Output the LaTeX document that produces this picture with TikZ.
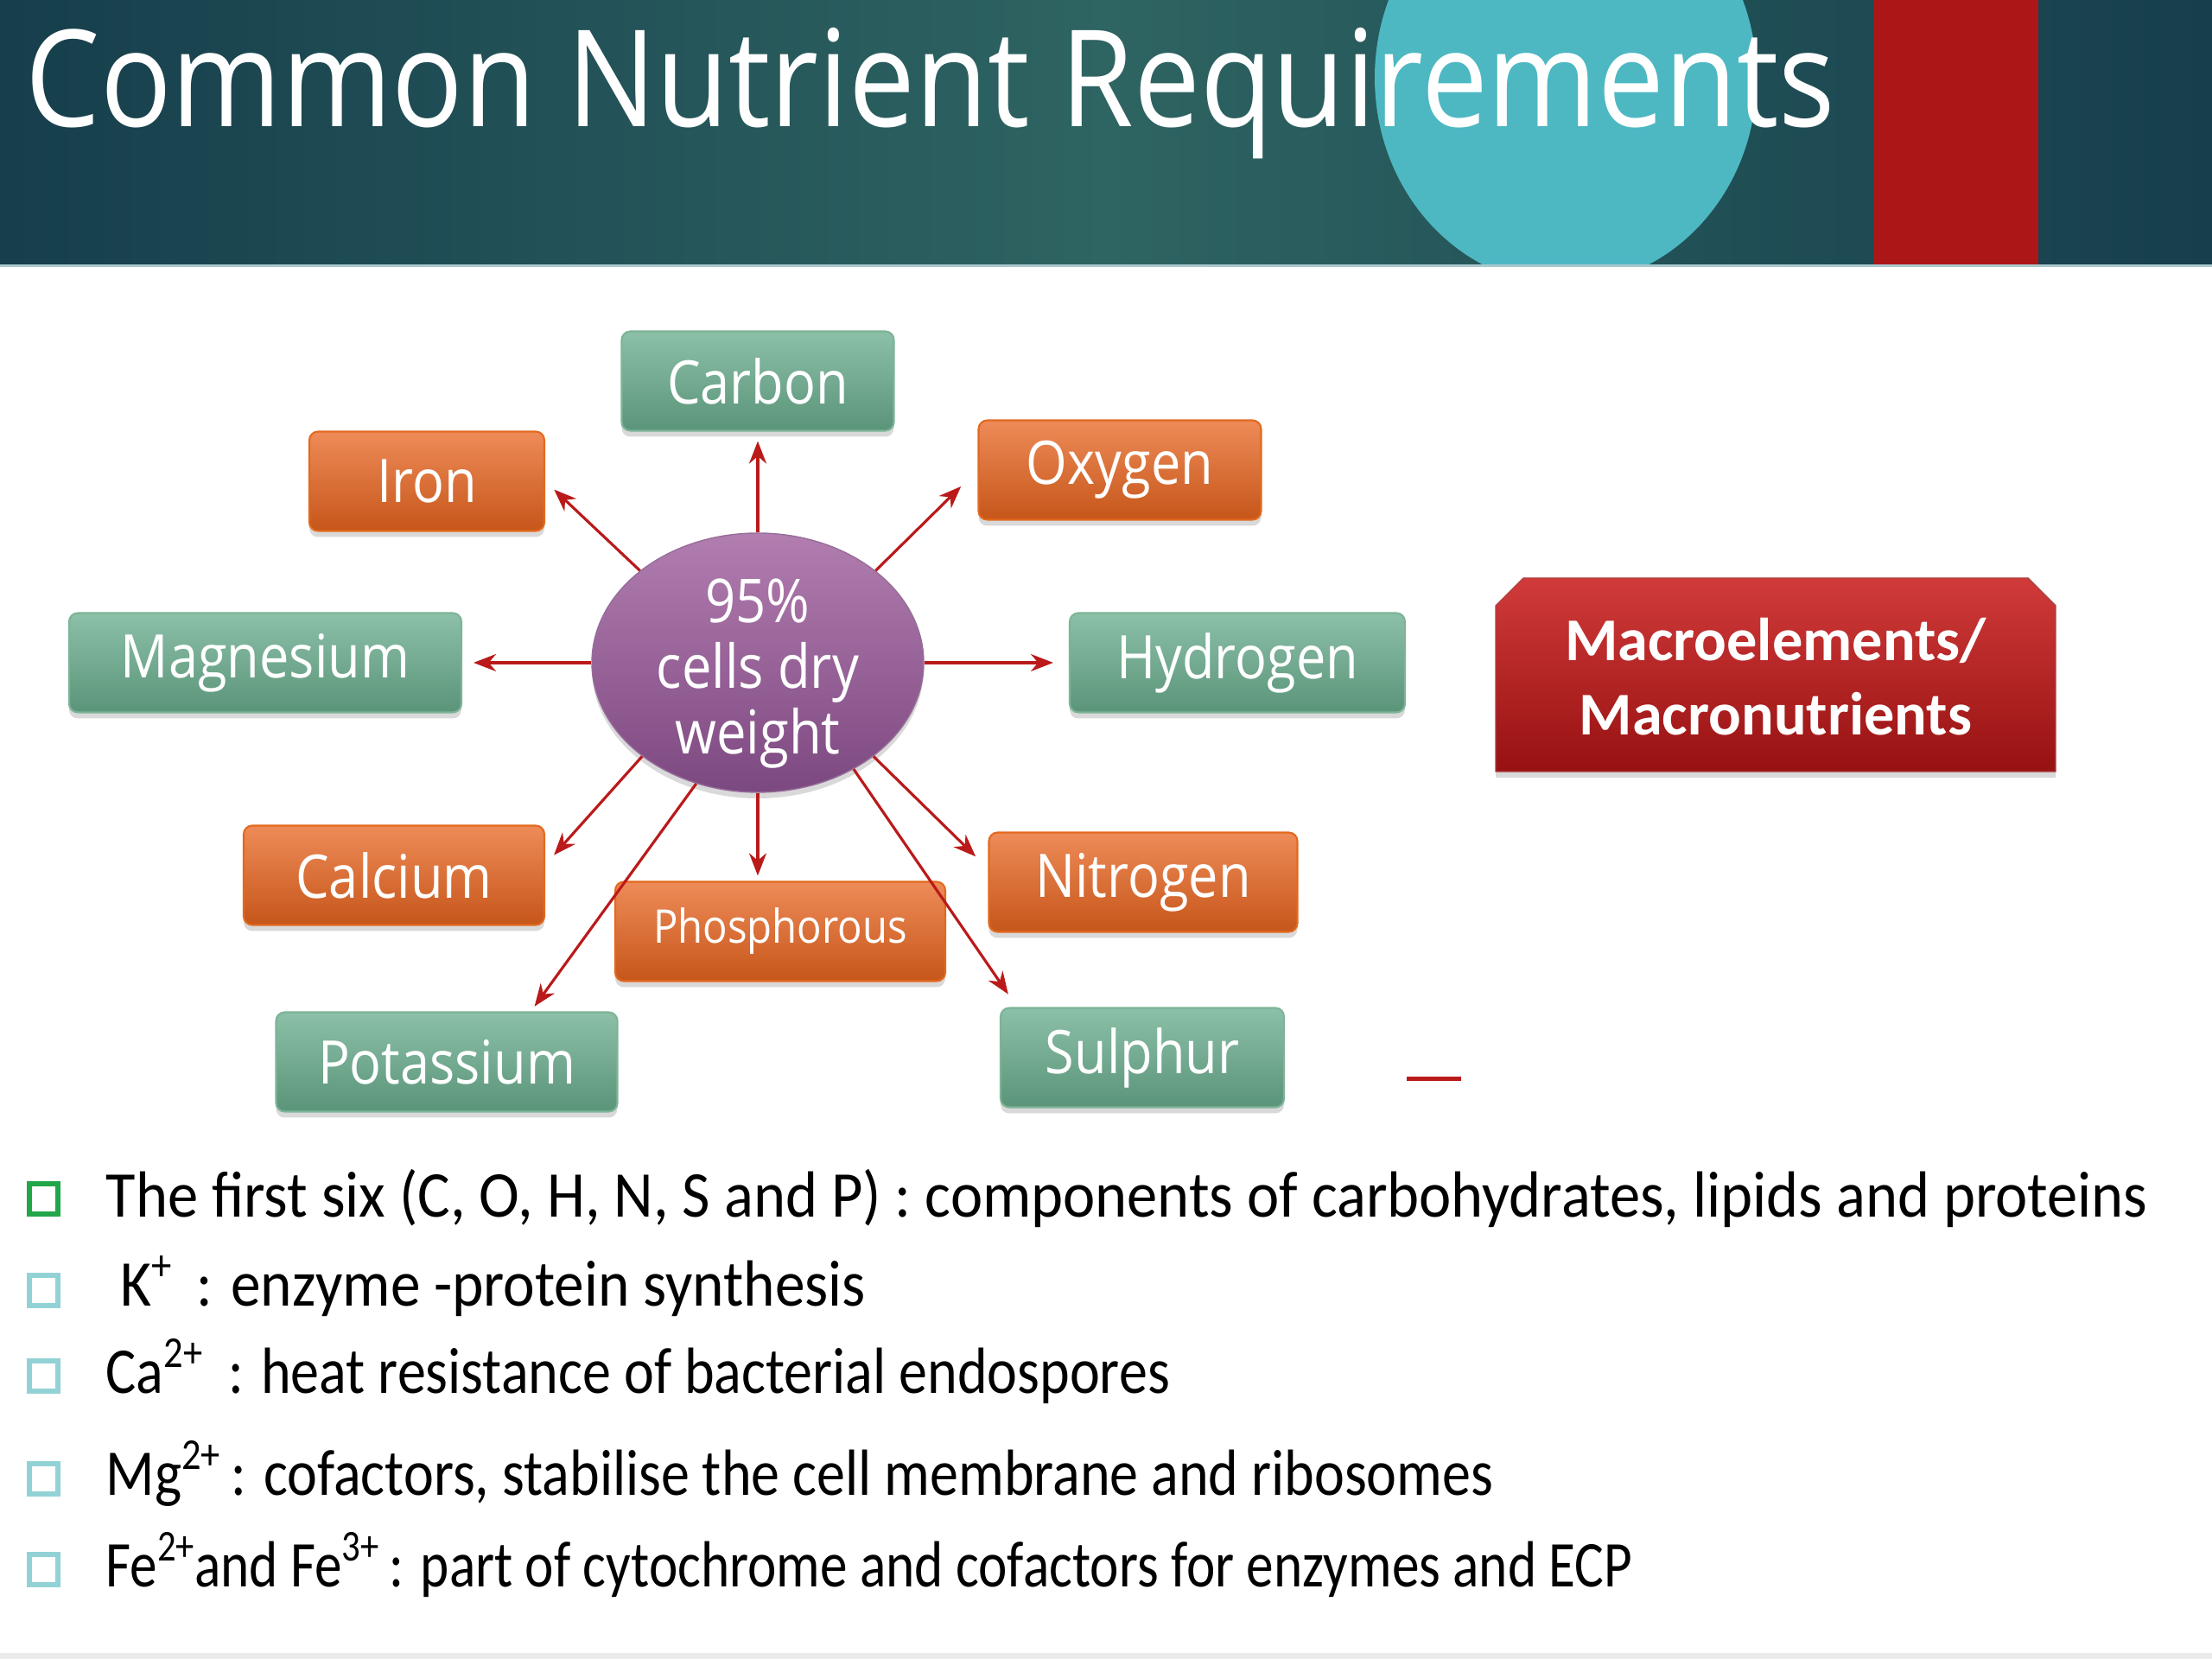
\documentclass[tikz,border=0pt]{standalone}
\usepackage{fontspec}
\setmainfont{Carlito}
\newfontfamily\boxfont{Open Sans}[FakeStretch=0.88]
\newfontfamily\listfont{Carlito}[FakeStretch=0.874]
\usetikzlibrary{arrows.meta,shapes.geometric,shadows}

\newcommand{\chg}[1]{\raisebox{0.4em}{\fontsize{14.5}{14.5}\selectfont #1}}

\definecolor{hdrDark}{HTML}{163E4C}
\definecolor{hdrMid}{HTML}{2E6462}
\definecolor{hdrLine}{HTML}{A9C8CE}
\definecolor{circTeal}{HTML}{4DB8C2}
\definecolor{barRed}{HTML}{AC1616}
\definecolor{grnTop}{HTML}{8CC0A8}
\definecolor{grnBot}{HTML}{5A9479}
\definecolor{grnLine}{HTML}{7DB497}
\definecolor{orgTop}{HTML}{EE8B58}
\definecolor{orgBot}{HTML}{C6561A}
\definecolor{orgLine}{HTML}{E2691E}
\definecolor{purTop}{HTML}{B27EB0}
\definecolor{purBot}{HTML}{7C4880}
\definecolor{arrRed}{HTML}{BA1A1A}
\definecolor{macTop}{HTML}{D13A3A}
\definecolor{macBot}{HTML}{971111}
\definecolor{bulGrn}{HTML}{22A64A}
\definecolor{bulTeal}{HTML}{92D2D5}

\begin{document}
\begin{tikzpicture}[>={Stealth[length=0.26cm,width=0.2cm]},
  softshadow/.style={drop shadow={shadow xshift=0cm, shadow yshift=-0.07cm, opacity=0.3}},
  elem/.style={rounded corners=0.1cm, minimum height=1.15cm, inner sep=0, text=white,
    line width=0.6pt, softshadow, font=\boxfont\fontsize{19.8}{22}\selectfont},
  greenbox/.style={elem, draw=grnLine, top color=grnTop, bottom color=grnBot},
  orangebox/.style={elem, draw=orgLine, top color=orgTop, bottom color=orgBot},
  arr/.style={->, draw=arrRed, line width=0.9pt},
  bullet/.style={draw, line width=0.06cm, minimum width=0.33cm, minimum height=0.35cm,
    inner sep=0, anchor=south west},
  item/.style={anchor=base west, inner sep=0, font=\listfont\fontsize{21.5}{26}\selectfont}]
\useasboundingbox (0,0) rectangle (25.6,19.2);

% header band
\shade[left color=hdrDark, right color=hdrDark, middle color=hdrMid] (0,16.12) rectangle (25.6,19.2);
\begin{scope}
  \clip (0,16.12) rectangle (25.6,19.2);
  \fill[circTeal] (18.12,18.30) ellipse [x radius=2.21, y radius=2.40];
\end{scope}
\fill[barRed] (21.68,16.12) rectangle (23.59,19.2);
\draw[hdrLine, line width=0.03cm] (0,16.12) -- (25.6,16.12);
\node[anchor=base west, inner sep=0, text=white, font=\boxfont\fontsize{44.3}{50}\selectfont] (title) at (0.29,17.73) {Common Nutrient Requirements};

% centre and elements
\node[ellipse, minimum width=3.84cm, minimum height=3cm, inner sep=0, draw=purBot!80,
  top color=purTop, bottom color=purBot, softshadow] (core) at (8.77,11.53) {};
\node[align=center, text=white, inner sep=0, font=\boxfont\fontsize{19.9}{21.6}\selectfont]
  (coretext) at ([yshift=-0.13cm]core.center) {95\%\\cells dry\\weight};

\node[greenbox, minimum width=3.15cm] (carbon) at (8.77,14.79) {Carbon};
\node[orangebox, minimum width=2.72cm] (iron) at (4.94,13.63) {Iron};
\node[orangebox, minimum width=3.27cm] (oxygen) at (12.96,13.76) {Oxygen};
\node[greenbox, minimum width=4.54cm] (magnesium) at (3.07,11.53) {Magnesium};
\node[greenbox, minimum width=3.88cm] (hydrogen) at (14.32,11.53) {Hydrogen};
\node[orangebox, minimum width=3.48cm] (calcium) at (4.56,9.07) {Calcium};
\node[orangebox, minimum width=3.82cm, font=\boxfont\fontsize{15.3}{17}\selectfont] (phosphorous) at (9.03,8.42) {Phosphorous};
\node[orangebox, minimum width=3.57cm] (nitrogen) at (13.23,8.99) {Nitrogen};
\node[greenbox, minimum width=3.95cm] (potassium) at (5.17,6.91) {Potassium};
\node[greenbox, minimum width=3.28cm] (sulphur) at (13.22,6.96) {Sulphur};

\draw[arr, shorten >=0.11cm] (core) -- (carbon);
\draw[arr, shorten >=0.14cm] (core.142) -- (iron.east);
\draw[arr, shorten >=0.27cm] (core.38) -- (oxygen.west);
\draw[arr, shorten >=0.13cm] (core) -- (magnesium);
\draw[arr, shorten >=0.18cm] (core) -- (hydrogen);
\draw[arr, shorten >=0.15cm] (core.219) -- (calcium.4);
\draw[arr, shorten >=0.06cm] (core) -- (core |- phosphorous.north);
\draw[arr, shorten >=0.07cm] (core.243) -- (potassium.31);
\draw[arr, shorten >=0.20cm] (core.321) -- (nitrogen.175);
\draw[arr, shorten >=0.18cm] (core.312) -- (sulphur.158);

\draw[arrRed, line width=0.05cm] (16.28,6.71) -- (16.91,6.71);

% macro box
\path[softshadow, top color=macTop, bottom color=macBot, draw=macBot!80]
  (17.31,10.27) -- (17.31,12.19) -- (17.63,12.51) -- (23.47,12.51) -- (23.79,12.19) -- (23.79,10.27) -- cycle;
\node[align=center, text=white, font=\bfseries\fontsize{20}{24.5}\selectfont] (macro) at (20.55,11.37) {Macroelements/\\Macronutrients};

% bullet list
\node[bullet, draw=bulGrn] (b1) at (0.31,5.12) {};
\node[item, xscale=1.068] (l1) at (1.22,5.11) {The first six (C, O, H, N, S and P) : components of carbohydrates, lipids and proteins};
\node[bullet, draw=bulTeal] (b2) at (0.31,4.06) {};
\node[item, xscale=1.05] (l2) at (1.39,4.08) {K\chg{+}\, : enzyme -protein synthesis};
\node[bullet, draw=bulTeal] (b3) at (0.31,3.07) {};
\node[item] (l3) at (1.22,3.07) {Ca\chg{2+}\hspace{0.4em}: heat resistance of bacterial endospores};
\node[bullet, draw=bulTeal] (b4) at (0.31,1.88) {};
\node[item] (l4) at (1.22,1.89) {Mg\chg{2+}\,: cofactors, stabilise the cell membrane and ribosomes};
\node[bullet, draw=bulTeal] (b5) at (0.31,0.83) {};
\node[item, xscale=0.958] (l5) at (1.22,0.83) {Fe\chg{2+}and Fe\chg{3+}\,: part of cytochrome and cofactors for enzymes and ECP};

\fill[black!8] (0,0) rectangle (25.6,0.07);
\end{tikzpicture}
\end{document}
